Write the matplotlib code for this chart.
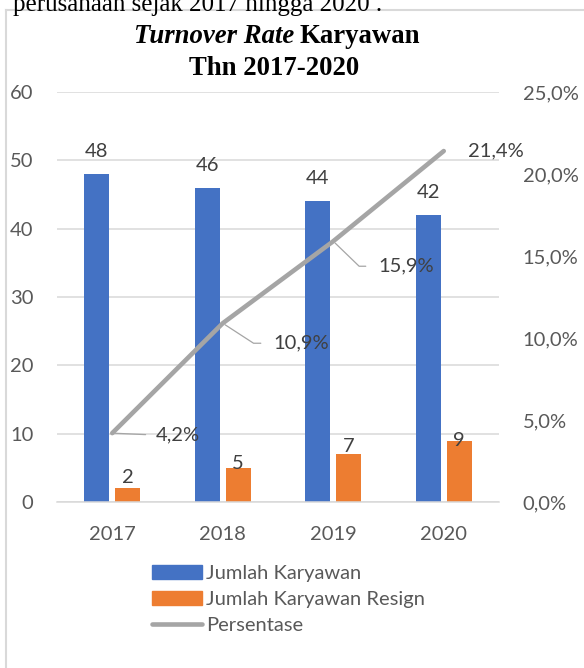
import matplotlib

matplotlib.use("Agg")
import matplotlib.pyplot as plt
from matplotlib.lines import Line2D
from matplotlib.patches import Patch

# data
years = ["2017", "2018", "2019", "2020"]
karyawan = [48, 46, 44, 42]
resign = [2, 5, 7, 9]
persen = [4.2, 10.9, 15.9, 21.4]
persen_labels = ["4,2%", "10,9%", "15,9%", "21,4%"]
right_ticks = [0, 5, 10, 15, 20, 25]
right_tick_labels = ["0,0%", "5,0%", "10,0%", "15,0%", "20,0%", "25,0%"]

W, H = 584, 668
BLUE, ORANGE, GRAY = "#4472C4", "#ED7D31", "#A5A5A5"
TXT, LBL = "#595959", "#404040"
FONT = "Lato"


def fx(px):
    return px / W


def fy(py):
    return 1 - py / H


fig = plt.figure(figsize=(W / 100, H / 100), dpi=100)

# frame around the chart (cut off on the right/bottom)
fig.add_artist(Line2D([fx(6), fx(W + 5)], [fy(10), fy(10)], color="#d9d9d9", lw=1.5))
fig.add_artist(Line2D([fx(6), fx(6)], [fy(10), fy(H + 5)], color="#d9d9d9", lw=1.5))

# running text of the page, cut off at the top
fig.text(fx(13), fy(11), "perusahaan sejak 2017 hingga 2020 .", family="Liberation Serif",
         fontsize=18, ha="left", va="baseline", color="black")

# title: italic part + normal part
t1 = fig.text(fx(134), fy(43), "Turnover Rate", family="Liberation Serif", fontsize=19.3,
              weight="bold", style="italic", ha="left", va="baseline")
fig.canvas.draw()
bb = t1.get_window_extent()
fig.text(fx(bb.x1 + 5), fy(43), "Karyawan", family="Liberation Serif",
         fontsize=19.3, weight="bold", ha="left", va="baseline")
fig.text(fx(274), fy(75), "Thn 2017-2020", family="Liberation Serif", fontsize=19.3,
         weight="bold", ha="center", va="baseline")

ax = fig.add_axes([fx(57), fy(502), fx(499) - fx(57), fy(92) - fy(502)])
x = list(range(len(years)))
w, off = 0.225, 0.14
bx = [i - off for i in x]
ox = [i + off for i in x]
ax.bar(bx, karyawan, w, color=BLUE, zorder=2)
ax.bar(ox, resign, w, color=ORANGE, zorder=2)

ax.set_xlim(-0.5, 3.5)
ax.set_ylim(0, 60)
ax.set_yticks(range(0, 61, 10))
ax.grid(axis="y", color="#d9d9d9", lw=1.1, zorder=0)
ax.set_axisbelow(True)
for s in ["top", "right", "left"]:
    ax.spines[s].set_visible(False)
ax.spines["bottom"].set_color("#d9d9d9")
ax.spines["bottom"].set_linewidth(1.1)
ax.set_xticks(x)
ax.set_xticklabels(years)
ax.tick_params(length=0, labelsize=14.5, labelcolor=TXT, pad=17)
for lab in ax.get_xticklabels() + ax.get_yticklabels():
    lab.set_family(FONT)

# bar labels (offsets as they sit in the original)
blue_off = [12.2, 12.2, 12.2, 12.2]
orange_off = [3.6, -0.7, 1.4, -4.3]
for xi, v, o in zip(bx, karyawan, blue_off):
    ax.annotate(str(v), (xi, v), xytext=(0, o), textcoords="offset points", ha="center",
                va="baseline", fontsize=14.5, color=LBL, family=FONT, zorder=5)
for xi, v, o in zip(ox, resign, orange_off):
    ax.annotate(str(v), (xi, v), xytext=(0, o), textcoords="offset points", ha="center",
                va="baseline", fontsize=14.5, color=LBL, family=FONT, zorder=5)

ax2 = ax.twinx()
ax2.set_ylim(0, 25)
ax2.set_yticks(right_ticks)
ax2.set_yticklabels(right_tick_labels)
for s in ax2.spines.values():
    s.set_visible(False)
ax2.tick_params(length=0, labelsize=14.5, labelcolor=TXT, pad=17)
for lab in ax2.get_yticklabels():
    lab.set_family(FONT)
ax2.plot(x, persen, color=GRAY, lw=3.3, solid_capstyle="round", zorder=3)

# line labels with leader lines
lbl_off = [(31, -1.4), (36.4, -14.4), (32.4, -18), (17.6, 0)]
leader = [dict(arrowstyle="-", color=GRAY, lw=0.9, shrinkA=5, shrinkB=2, relpos=(0, 0.5)),
          dict(arrowstyle="-", color=GRAY, lw=0.9, shrinkA=7, shrinkB=2, relpos=(0, 0.5),
               connectionstyle="angle,angleA=0,angleB=-33,rad=0"),
          dict(arrowstyle="-", color=GRAY, lw=0.9, shrinkA=7, shrinkB=2, relpos=(0, 0.5),
               connectionstyle="angle,angleA=0,angleB=-44,rad=0"),
          None]
for xi, v, t, o, ap in zip(x, persen, persen_labels, lbl_off, leader):
    ax2.annotate(t, (xi, v), xytext=o, textcoords="offset points", ha="left", va="center",
                 fontsize=14.5, color=LBL, family=FONT, arrowprops=ap, zorder=5)

handles = [Patch(color=BLUE), Patch(color=ORANGE),
           Line2D([], [], color=GRAY, lw=3.3, solid_capstyle="round")]
fig.legend(handles, ["Jumlah Karyawan", "Jumlah Karyawan Resign", "Persentase"],
           loc="upper left", bbox_to_anchor=(fx(152), fy(565)), frameon=False,
           borderpad=0, borderaxespad=0, handlelength=2.5, handletextpad=0.2,
           labelspacing=0.45, prop={"family": FONT, "size": 14.5}, labelcolor=TXT)

fig.savefig("out.png", dpi=100)
